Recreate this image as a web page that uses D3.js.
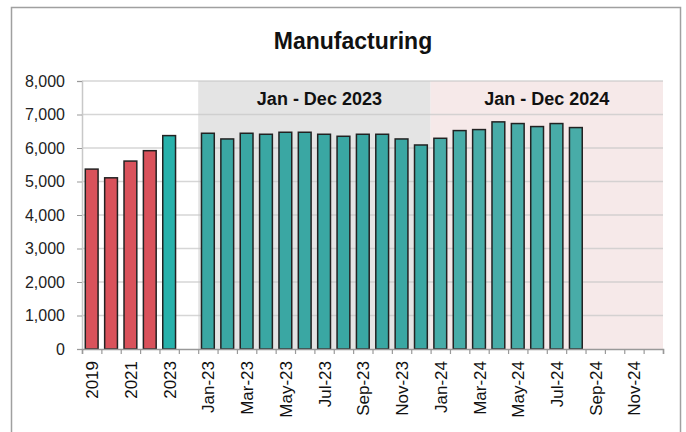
<!DOCTYPE html>
<html lang="en">
<head>
<meta charset="UTF-8">
<title>Manufacturing</title>
<script src="https://d3js.org/d3.v7.min.js"></script>
<style>
    body { margin: 0; background: #fff; }
    text { font-family: "Liberation Sans", Arial, sans-serif; }
</style>
</head>
<body>
<svg id="main" width="686" height="432"></svg>
<script>
    // categories along the x axis ("" is the empty slot between 2023 and Jan-23)
    const categories = ["2019", "2020", "2021", "2022", "2023", "",
        "Jan-23", "Feb-23", "Mar-23", "Apr-23", "May-23", "Jun-23",
        "Jul-23", "Aug-23", "Sep-23", "Oct-23", "Nov-23", "Dec-23",
        "Jan-24", "Feb-24", "Mar-24", "Apr-24", "May-24", "Jun-24",
        "Jul-24", "Aug-24", "Sep-24", "Oct-24", "Nov-24", "Dec-24"];

    const values = [5370, 5110, 5610, 5920, 6370, null,
        6440, 6270, 6440, 6410, 6470, 6470, 6410, 6350, 6410, 6410, 6270, 6090,
        6290, 6520, 6550, 6780, 6730, 6640, 6730, 6610, null, null, null, null];

    // which colour group each bar belongs to
    const groups = ["past", "past", "past", "past", "year23", null,
        "m23", "m23", "m23", "m23", "m23", "m23", "m23", "m23", "m23", "m23", "m23", "m23",
        "m24", "m24", "m24", "m24", "m24", "m24", "m24", "m24", "m24", "m24", "m24", "m24"];

    const yTicks = [0, 1000, 2000, 3000, 4000, 5000, 6000, 7000, 8000];

    const bandLabels = ["Jan - Dec 2023", "Jan - Dec 2024"];
    const bandStart = ["Jan-23", "Jan-24"];
    const bandEnd = ["Dec-23", "Dec-24"];

    const colors = {past: "#d9525b", year23: "#27b1ab", m23: "#3aa7a3", m24: "#48aca8"};
    const bandColors = ["#e4e4e4", "#f6e9e9"];

    const plotLeft = 82, plotRight = 663, plotTop = 81, plotBottom = 349;
    const svg = d3.select("svg#main");

    // outer frame
    svg.append("rect")
        .attr("x", 11.5).attr("y", 7.5)
        .attr("width", 669).attr("height", 440)
        .attr("fill", "none").attr("stroke", "#a0a0a0").attr("stroke-width", 1.5);

    svg.append("text")
        .attr("x", 353).attr("y", 49)
        .attr("text-anchor", "middle")
        .style("font-size", "23px").style("font-weight", "bold")
        .attr("fill", "#111")
        .text("Manufacturing");

    const x = d3.scaleBand().domain(categories).range([plotLeft, plotRight]).paddingInner(0.34).paddingOuter(0.17);
    const xIdx = d3.scaleLinear().domain([0, categories.length]).range([plotLeft, plotRight]);
    const y = d3.scaleLinear().domain([0, 8000]).range([plotBottom, plotTop]);

    // shaded period bands
    bandLabels.forEach(function (lab, i) {
        const x0 = xIdx(categories.indexOf(bandStart[i]));
        const x1 = xIdx(categories.indexOf(bandEnd[i]) + 1);
        svg.append("rect")
            .attr("x", x0).attr("y", y(8000))
            .attr("width", x1 - x0).attr("height", y(0) - y(8000))
            .attr("fill", bandColors[i]);
        svg.append("text")
            .attr("x", (x0 + x1) / 2 + (i === 0 ? 5 : 0)).attr("y", 105)
            .attr("text-anchor", "middle")
            .style("font-size", "18px").style("font-weight", "bold")
            .attr("fill", "#111")
            .text(lab);
    });

    // gridlines
    svg.append("g")
        .selectAll("line")
        .data(yTicks.slice(1))
        .enter()
        .append("line")
        .attr("x1", plotLeft).attr("x2", plotRight)
        .attr("y1", d => y(d)).attr("y2", d => y(d))
        .attr("stroke", "#c8c8c8").attr("stroke-opacity", 0.75).attr("stroke-width", 1.5);

    // y axis
    const yAxis = svg.append("g")
        .attr("transform", "translate(" + plotLeft + ",0)")
        .call(d3.axisLeft(y).tickValues(yTicks).tickSize(5).tickPadding(12).tickFormat(d3.format(",")));
    yAxis.select(".domain").attr("stroke", "#c8c8c8").attr("stroke-width", 1.5);
    yAxis.selectAll(".tick line").attr("stroke", "#999");
    yAxis.selectAll("text").style("font-size", "16px").attr("fill", "#222")
        .style("font-family", "'Liberation Sans', Arial, sans-serif");

    // bars
    const barData = categories.map((c, i) => ({cat: c, value: values[i], group: groups[i]}))
        .filter(d => d.value !== null);

    svg.append("g")
        .selectAll("rect")
        .data(barData)
        .enter()
        .append("rect")
        .attr("x", d => x(d.cat))
        .attr("y", d => y(d.value))
        .attr("width", x.bandwidth())
        .attr("height", d => y(0) - y(d.value))
        .attr("fill", d => colors[d.group])
        .attr("stroke", "#222")
        .attr("stroke-width", 1.5);

    // x axis: ticks at category boundaries
    const xAxis = svg.append("g")
        .attr("transform", "translate(0," + plotBottom + ")")
        .call(d3.axisBottom(xIdx).tickValues(d3.range(0, categories.length + 1)).tickSize(5).tickFormat(""));
    xAxis.select(".domain").attr("stroke", "#999").attr("stroke-width", 1.5);
    xAxis.selectAll(".tick line").attr("stroke", "#999").attr("stroke-width", 1.2);

    // every other category label, rotated
    svg.append("g")
        .selectAll("text")
        .data(categories.filter((c, i) => i % 2 === 0))
        .enter()
        .append("text")
        .attr("transform", d => "translate(" + (x(d) + x.bandwidth() / 2 + 6.5) + "," + 361 + ") rotate(-90)")
        .attr("text-anchor", "end")
        .style("font-size", "17px")
        .attr("fill", "#111")
        .text(d => d);
</script>
</body>
</html>
